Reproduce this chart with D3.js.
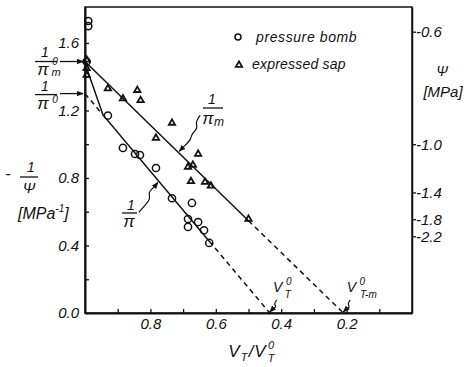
<!DOCTYPE html>
<html>
<head>
<meta charset="utf-8">
<script src="https://d3js.org/d3.v7.min.js"></script>
<style>
  body { margin: 0; background: #fff; }
  svg { display: block; }
  text { font-family: "Liberation Sans", Arial, sans-serif; font-style: italic; fill: #111; }
</style>
</head>
<body>
<script>
"use strict";
/* values */
var bombV   = [0.99, 0.99, 0.995, 0.93, 0.884, 0.847, 0.832, 0.783, 0.734, 0.673, 0.685, 0.685, 0.654, 0.636, 0.62];
var bombInv = [1.73, 1.70, 1.49, 1.17, 0.978, 0.942, 0.936, 0.859, 0.68, 0.652, 0.557, 0.51, 0.539, 0.49, 0.415];
var sapV    = [0.995, 0.995, 0.995, 0.93, 0.884, 0.84, 0.83, 0.783, 0.734, 0.685, 0.67, 0.654, 0.676, 0.633, 0.615, 0.50];
var sapInv  = [1.50, 1.45, 1.41, 1.33, 1.27, 1.32, 1.26, 1.037, 1.126, 0.865, 0.877, 0.942, 0.78, 0.776, 0.753, 0.557];

/* fitted lines: [1/pi at V=1, V where 1/pi = 0] */
var bombFit = [1.30, 0.435];
var sapFit  = [1.49, 0.21];
var bombKneeTop = [1.0, 1.48];   // start of the steep part of the pressure bomb curve
var bombSolid = [0.945, 0.62];
var sapSolid  = [1.0, 0.50];

var leftTicks   = [0.2, 0.4, 0.6, 0.8, 1.0, 1.2, 1.4, 1.6];
var leftLabels  = [0.0, 0.4, 0.8, 1.2, 1.6];
var bottomTicks = [0.9, 0.8, 0.7, 0.6, 0.5, 0.4, 0.3, 0.2, 0.1];
var bottomLabels = [0.8, 0.6, 0.4, 0.2];
var psiTicks    = [-0.6, -1.0, -1.4, -1.8, -2.2];

var width = 466, height = 367;
var L = 85, R = 412, T = 7, B = 313;

var x = d3.scaleLinear().domain([1, 0]).range([L, R]);
var y = d3.scaleLinear().domain([0, 1.813]).range([B, T]);

function fitAt(fit, v) { return fit[0] * (v - fit[1]) / (1 - fit[1]); }

var svg = d3.select("body").append("svg")
    .attr("width", width).attr("height", height);

var defs = svg.append("defs");
defs.append("marker").attr("id", "head")
    .attr("viewBox", "0 0 10 10").attr("refX", 9).attr("refY", 5)
    .attr("markerWidth", 7).attr("markerHeight", 7)
    .attr("markerUnits", "userSpaceOnUse")
    .attr("orient", "auto")
  .append("path").attr("d", "M0,1 L10,5 L0,9 Z").attr("fill", "#111");

/* frame */
svg.append("rect").attr("x", L).attr("y", T).attr("width", R - L).attr("height", B - T)
    .attr("fill", "none").attr("stroke", "#111").attr("stroke-width", 1.5);

/* axes */
function styleAxis(g) {
  g.attr("font-family", null).attr("font-size", 15);
  g.selectAll(".tick line").attr("stroke", "#111").attr("stroke-width", 1.3);
  g.select(".domain").attr("stroke", "#111").attr("stroke-width", 2);
}

svg.append("g").attr("transform", "translate(" + L + ",0)")
  .call(d3.axisLeft(y).tickValues([0].concat(leftTicks)).tickSizeInner(-4).tickSizeOuter(0).tickPadding(6)
    .tickFormat(function (d) { return leftLabels.indexOf(d) >= 0 ? d3.format(".1f")(d) : ""; }))
  .call(styleAxis);

svg.append("g").attr("transform", "translate(0," + B + ")")
  .call(d3.axisBottom(x).tickValues(bottomTicks).tickSizeInner(-4).tickSizeOuter(0).tickPadding(5)
    .tickFormat(function (d) { return bottomLabels.indexOf(d) >= 0 ? d3.format(".1f")(d) : ""; }))
  .call(styleAxis);

svg.append("g").attr("transform", "translate(" + R + ",0)")
  .call(d3.axisRight(y).tickValues(psiTicks.map(function (p) { return -1 / p; }))
    .tickSizeInner(4).tickSizeOuter(0).tickPadding(0)
    .tickFormat(function (d, i) { return "-" + d3.format(".1f")(-psiTicks[i]); }))
  .call(styleAxis)
  .call(function (g) { g.select(".domain").attr("stroke-width", 1.5); });

/* fitted lines */
var line = d3.line().x(function (d) { return x(d[0]); }).y(function (d) { return y(d[1]); });
function seg(fit, a, b) { return [[a, fitAt(fit, a)], [b, fitAt(fit, b)]]; }

var paths = [
  { pts: [bombKneeTop, [bombSolid[0], fitAt(bombFit, bombSolid[0])], [bombSolid[1], fitAt(bombFit, bombSolid[1])]], dash: false },
  { pts: seg(bombFit, 1.0, bombSolid[0]), dash: true },
  { pts: seg(bombFit, bombSolid[1], bombFit[1]), dash: true },
  { pts: seg(sapFit, sapSolid[0], sapSolid[1]), dash: false },
  { pts: seg(sapFit, sapSolid[1], sapFit[1]), dash: true }
];
svg.append("g").selectAll("path").data(paths).join("path")
    .attr("d", function (d) { return line(d.pts); })
    .attr("fill", "none").attr("stroke", "#111").attr("stroke-width", 1.5)
    .attr("stroke-dasharray", function (d) { return d.dash ? "5,4" : null; });

/* points */
svg.append("g").selectAll("circle").data(bombV).join("circle")
    .attr("cx", function (d) { return x(d); })
    .attr("cy", function (d, i) { return y(bombInv[i]); })
    .attr("r", 3.6).attr("fill", "none").attr("stroke", "#111").attr("stroke-width", 1.5);

var tri = d3.symbol().type(d3.symbolTriangle).size(17);
svg.append("g").selectAll("path").data(sapV).join("path")
    .attr("transform", function (d, i) { return "translate(" + x(d) + "," + y(sapInv[i]) + ")"; })
    .attr("d", tri).attr("fill", "none").attr("stroke", "#111").attr("stroke-width", 1.8);

/* legend */
var lg = svg.append("g");
lg.append("circle").attr("cx", 238).attr("cy", 37).attr("r", 3).attr("fill", "none")
    .attr("stroke", "#111").attr("stroke-width", 1.5);
lg.append("text").attr("x", 256).attr("y", 42).attr("font-size", 14).attr("letter-spacing", 0.6).text("pressure bomb");
lg.append("path").attr("transform", "translate(239,65)").attr("d", tri)
    .attr("fill", "none").attr("stroke", "#111").attr("stroke-width", 1.8);
lg.append("text").attr("x", 252).attr("y", 69).attr("font-size", 14).attr("letter-spacing", 0.2).text("expressed sap");

/* helpers for hand-lettered annotations */
function txt(xp, yp, s, size, anchor) {
  return svg.append("text").attr("x", xp).attr("y", yp).attr("font-size", size)
    .attr("text-anchor", anchor || "middle").text(s);
}
function bar(x1, x2, yp) {
  svg.append("line").attr("x1", x1).attr("x2", x2).attr("y1", yp).attr("y2", yp)
    .attr("stroke", "#111").attr("stroke-width", 1.3);
}
var wave = d3.line().curve(d3.curveBasis);
function leader(pts, head) {
  svg.append("path").attr("d", wave(pts)).attr("fill", "none").attr("stroke", "#111")
    .attr("stroke-width", 1.2).attr("marker-end", head ? "url(#head)" : null);
}

/* 1/pi_m^0 and 1/pi^0 arrows at left */
var ym0 = y(sapFit[0]), yp0 = y(bombFit[0]);
txt(45, ym0 - 5, "1", 14);
bar(35, 57, ym0);
txt(43, ym0 + 13, "π", 17);
txt(55, ym0 + 3, "0", 10);
txt(56, ym0 + 14, "m", 11);
svg.append("line").attr("x1", 60).attr("x2", L - 2).attr("y1", ym0).attr("y2", ym0)
    .attr("stroke", "#111").attr("stroke-width", 1.3).attr("marker-end", "url(#head)");

txt(45, yp0 - 3, "1", 14);
bar(35, 57, yp0 + 1);
txt(43, yp0 + 15, "π", 17);
txt(55, yp0 + 9, "0", 10);
svg.append("line").attr("x1", 60).attr("x2", L - 2).attr("y1", yp0).attr("y2", yp0)
    .attr("stroke", "#111").attr("stroke-width", 1.3).attr("marker-end", "url(#head)");

/* left axis title */
txt(8, 179, "-", 16);
txt(31, 172, "1", 14);
bar(20, 38, 177);
txt(29, 193, "Ψ", 15);
var mpa = svg.append("text").attr("x", 18).attr("y", 219).attr("font-size", 16).text("[MPa");
mpa.append("tspan").attr("font-size", 10).attr("dy", -7).text("-1");
mpa.append("tspan").attr("dy", 7).text("]");

/* right axis title */
txt(442, 76, "Ψ", 14);
txt(443, 97, "[MPa]", 15);

/* 1/pi_m label on the sap line */
var tm = [x(0.715), y(fitAt(sapFit, 0.715))];
txt(212, 104, "1", 14);
bar(203, 223, 108);
txt(208, 124, "π", 17);
txt(219, 126, "m", 12);
leader([[tm[0] + 22, tm[1] - 37], [tm[0] + 17, tm[1] - 30], [tm[0] + 20, tm[1] - 24],
        [tm[0] + 13, tm[1] - 18], [tm[0] + 13, tm[1] - 13], [tm[0] + 6, tm[1] - 6], [tm[0] + 1, tm[1] - 1]], true);

/* 1/pi label on the bomb line */
var tb = [x(0.774), y(fitAt(bombFit, 0.774))];
txt(131, 210, "1", 14);
bar(122, 137, 213);
txt(129, 227, "π", 17);
leader([[tb[0] - 20, tb[1] + 31], [tb[0] - 14, tb[1] + 24], [tb[0] - 8, tb[1] + 17], [tb[0] - 11, tb[1] + 11],
        [tb[0] - 5, tb[1] + 6], [tb[0] - 1, tb[1] + 1]], true);

/* V_T^0 and V_T-m^0 markers on the x axis */
function vlabel(v, sub) {
  var px = x(v);
  txt(px + 8, B - 21, "V", 14);
  txt(px + 19, B - 28, "0", 10);
  txt(px + 17 + (sub.length > 1 ? 8 : 1), B - 15, sub, 10);
  leader([[px + 7, B - 13], [px + 4, B - 9], [px + 7, B - 6], [px + 2, B - 3], [px, B - 1]], true);
}
vlabel(bombFit[1], "T");
vlabel(sapFit[1], "T-m");

/* x axis title */
txt(234, 357, "V", 17);
txt(244, 361, "T", 11);
txt(251, 357, "/", 17);
txt(260, 357, "V", 17);
txt(271, 349, "0", 11);
txt(271, 362, "T", 11);
</script>
</body>
</html>
